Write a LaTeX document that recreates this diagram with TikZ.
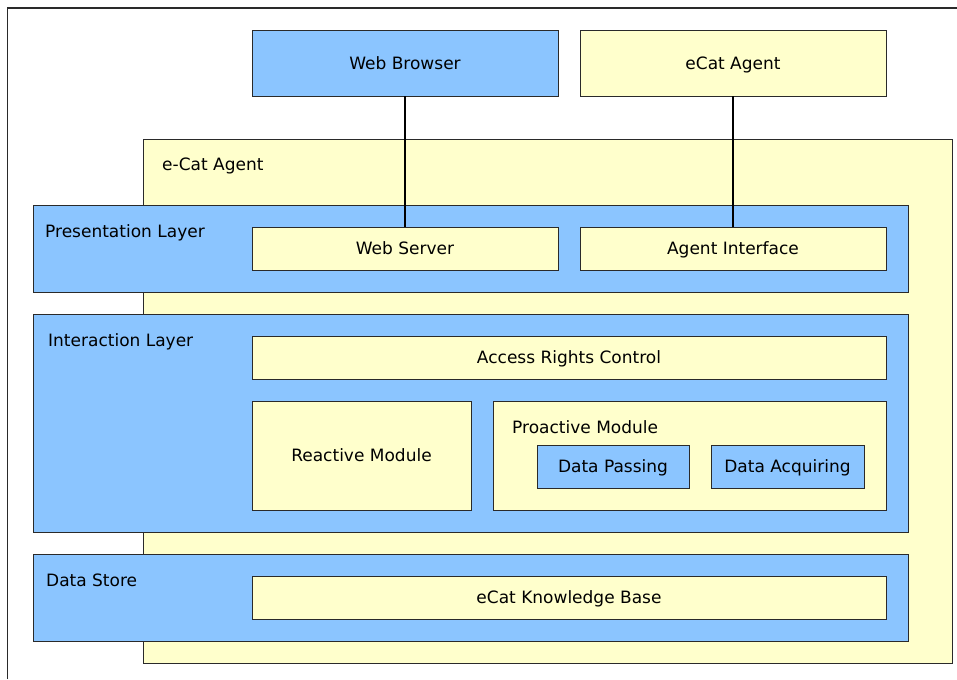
\documentclass[tikz,border=0pt]{standalone}
\usepackage{fontspec}
\setmainfont{DejaVu Sans}
\definecolor{layerblue}{HTML}{8BC5FF}
\definecolor{paleyellow}{HTML}{FFFFCC}
\definecolor{edgegray}{HTML}{2A2A2A}
\tikzset{
  box/.style={draw=edgegray, line width=0.9pt, inner sep=0pt, rectangle,
    text height=14.2pt, text depth=1.8pt,
    font=\fontsize{17}{20}\selectfont},
  bluebox/.style={box, fill=layerblue},
  yellowbox/.style={box, fill=paleyellow},
  caption/.style={anchor=base west, inner sep=0pt, font=\fontsize{17}{20}\selectfont},
  link/.style={draw=black, line width=1.7pt}
}
% place a box by its corners given in pixel units
\newcommand{\pbox}[6]{%
  \pgfmathsetmacro{\bw}{#4-#3}%
  \pgfmathsetmacro{\bh}{#6-#5}%
  \node[#1, minimum width=\bw pt, minimum height=\bh pt] (#2)
    at ({(#3+#4)/2}, {(#5+#6)/2})}
\begin{document}
\begin{tikzpicture}[x=1pt, y=-1pt]
  \useasboundingbox (0,0) rectangle (957,679);
  % outer frame (left and top edges)
  \coordinate (frameTL) at (7.5,8);
  \coordinate (frameBL) at (7.5,679);
  \coordinate (frameTR) at (957,8);
  \draw[edgegray, line width=1.1pt] (frameBL) -- (frameTL) -- (frameTR);

  % external clients
  \pbox{bluebox}{wb}{252}{558}{30}{96} {Web Browser};
  \pbox{yellowbox}{ea}{580}{886}{30}{96} {eCat Agent};

  % the e-Cat agent container
  \pbox{yellowbox}{agent}{143}{952}{139}{663} {};
  \node[caption] (agentlbl) at (162,171) {e-Cat Agent};

  % presentation layer
  \pbox{bluebox}{pres}{33}{908}{205}{292} {};
  \node[caption] (preslbl) at (45,237) {Presentation Layer};
  \pbox{yellowbox}{ws}{252}{558}{227}{270} {Web Server};
  \pbox{yellowbox}{ai}{580}{886}{227}{270} {Agent Interface};

  % interaction layer
  \pbox{bluebox}{inter}{33}{908}{314}{532} {};
  \node[caption] (interlbl) at (48,346) {Interaction Layer};
  \pbox{yellowbox}{arc}{252}{886}{336}{379} {Access Rights Control};
  \pbox{yellowbox}{rm}{252}{471}{401}{510} {Reactive Module};
  \pbox{yellowbox}{pm}{493}{886}{401}{510} {};
  \node[caption] (pmlbl) at (512,433) {Proactive Module};
  \pbox{bluebox}{dp}{537}{689}{445}{488} {Data Passing};
  \pbox{bluebox}{dq}{711}{864}{445}{488} {Data Acquiring};

  % data store
  \pbox{bluebox}{store}{33}{908}{554}{641} {};
  \node[caption] (storelbl) at (46,586) {Data Store};
  \pbox{yellowbox}{kb}{252}{886}{576}{619} {eCat Knowledge Base};

  % connections from clients
  \draw[link] (wb.south) -- (ws.north);
  \draw[link] (ea.south) -- (ai.north);
\end{tikzpicture}
\end{document}
